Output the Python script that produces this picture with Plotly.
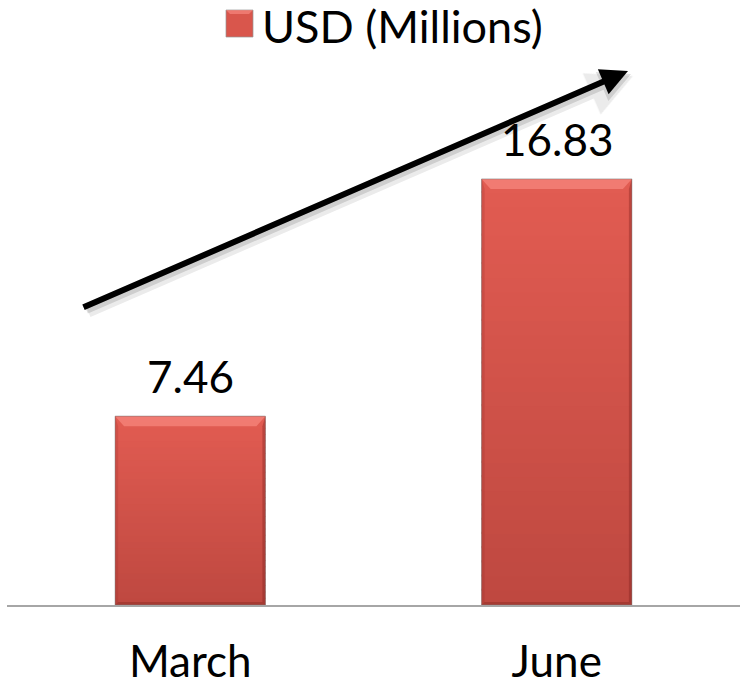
import plotly.graph_objects as go

# Data
months = ["March", "June"]
usd_millions = [7.46, 16.83]
series_name = "USD (Millions)"

# Layout constants
W, H = 740, 691
M_L, M_R, M_T, M_B = 7, 0, 48, 86
Y_MAX = 22.0
BAR_WIDTH = 0.41
FONT = "Lato"
TEXT_SIZE = 44

plot_w = W - M_L - M_R
plot_h = H - M_T - M_B
px_per_cat = plot_w / 2.0
px_per_unit = plot_h / Y_MAX


def paper_x(px):
    return (px - M_L) / plot_w


def paper_y(py):
    return (H - M_B - py) / plot_h


def mix(c0, c1, t):
    return "rgb(%d,%d,%d)" % tuple(round(a + (b - a) * t) for a, b in zip(c0, c1))


BOTTOM_RGB = (190, 72, 64)
TOP_RGB = (226, 92, 82)

fig = go.Figure()
fig.add_trace(go.Bar(
    x=months, y=usd_millions, width=BAR_WIDTH,
    marker=dict(color="#d35249", line=dict(width=0)),
    name=series_name, showlegend=False, hoverinfo="x+y",
))

shapes = []
half = BAR_WIDTH / 2
dx_side = 3 / px_per_cat
dy_top = 10 / px_per_unit
dy_bot = 3 / px_per_unit
N_BANDS = 30
for i, v in enumerate(usd_millions):
    x0, x1 = i - half, i + half
    # vertical shading of the bar body
    for k in range(N_BANDS):
        y0 = v * k / N_BANDS
        y1 = min(v, v * (k + 1.15) / N_BANDS)
        col = mix(BOTTOM_RGB, TOP_RGB, (k + 0.5) / N_BANDS)
        shapes.append(dict(type="rect", xref="x", yref="y", x0=x0, x1=x1, y0=y0, y1=y1,
                           fillcolor=col, line=dict(width=0), layer="above"))
    # bevel: lighter top facet
    shapes.append(dict(
        type="path", xref="x", yref="y", layer="above", line=dict(width=0),
        fillcolor="rgba(255,150,140,0.55)",
        path=f"M{x0},{v} L{x1},{v} L{x1 - dx_side * 3},{v - dy_top} L{x0 + dx_side * 3},{v - dy_top} Z"))
    # bevel: darker right and left facets
    shapes.append(dict(
        type="path", xref="x", yref="y", layer="above", line=dict(width=0),
        fillcolor="rgba(120,30,25,0.35)",
        path=f"M{x1},{v} L{x1},0 L{x1 - dx_side},{dy_bot} L{x1 - dx_side},{v - dy_top} Z"))
    shapes.append(dict(
        type="path", xref="x", yref="y", layer="above", line=dict(width=0),
        fillcolor="rgba(150,40,35,0.2)",
        path=f"M{x0},{v} L{x0},0 L{x0 + dx_side},{dy_bot} L{x0 + dx_side},{v - dy_top} Z"))
    # bevel: darker bottom facet
    shapes.append(dict(
        type="path", xref="x", yref="y", layer="above", line=dict(width=0),
        fillcolor="rgba(110,25,20,0.3)",
        path=f"M{x0},0 L{x1},0 L{x1 - dx_side},{dy_bot} L{x0 + dx_side},{dy_bot} Z"))
    # thin grey outline shadow
    shapes.append(dict(type="rect", xref="x", yref="y", x0=x0, x1=x1, y0=0, y1=v,
                       fillcolor="rgba(0,0,0,0)", line=dict(width=1, color="rgba(120,120,120,0.5)"),
                       layer="above"))

# Legend swatch
lx0, lx1, ly0, ly1 = 226, 253, 10, 37
shapes.append(dict(type="rect", xref="paper", yref="paper",
                   x0=paper_x(lx0), x1=paper_x(lx1), y0=paper_y(ly1), y1=paper_y(ly0),
                   fillcolor="#d9564c", line=dict(width=1, color="rgba(150,150,150,0.7)")))
shapes.append(dict(type="path", xref="paper", yref="paper", line=dict(width=0),
                   fillcolor="rgba(255,150,140,0.55)",
                   path=f"M{paper_x(lx0)},{paper_y(ly0)} L{paper_x(lx1)},{paper_y(ly0)} "
                        f"L{paper_x(lx1 - 4)},{paper_y(ly0 + 4)} L{paper_x(lx0 + 4)},{paper_y(ly0 + 4)} Z"))

annotations = []
# Value labels above bars
for m, v in zip(months, usd_millions):
    annotations.append(dict(x=m, y=v, xref="x", yref="y", text=f"{v:.2f}",
                            showarrow=False, yanchor="bottom", yshift=12,
                            font=dict(family=FONT, size=TEXT_SIZE, color="black")))

# Legend text
annotations.append(dict(x=paper_x(260), y=paper_y(26), xref="paper", yref="paper",
                        text=series_name, showarrow=False, xanchor="left", yanchor="middle",
                        font=dict(family=FONT, size=TEXT_SIZE + 1, color="black")))

# Trend arrow with soft shadow
ax0, ay0, ax1, ay1 = 82, 308, 628, 71
for off, col, wid in [(5, "rgba(0,0,0,0.08)", 10), (3, "rgba(0,0,0,0.12)", 7), (0, "black", 6)]:
    annotations.append(dict(
        x=paper_x(ax1 + off), y=paper_y(ay1 + off), xref="paper", yref="paper",
        ax=(ax0 - ax1), ay=(ay0 - ay1), axref="pixel", ayref="pixel",
        showarrow=True, arrowhead=2, arrowsize=0.9, arrowwidth=wid, arrowcolor=col, text=""))

fig.update_layout(
    width=W, height=H,
    margin=dict(l=M_L, r=M_R, t=M_T, b=M_B),
    paper_bgcolor="white", plot_bgcolor="white",
    showlegend=False,
    font=dict(family=FONT, size=TEXT_SIZE, color="black"),
    xaxis=dict(range=[-0.5, 1.5], showline=True, linecolor="#a6a6a6", linewidth=2,
               ticks="", showgrid=False, zeroline=False, ticklabelstandoff=17,
               automargin=False,
               tickfont=dict(family=FONT, size=TEXT_SIZE, color="black")),
    yaxis=dict(range=[0, Y_MAX], visible=False, showgrid=False, zeroline=False,
               automargin=False),
    shapes=shapes, annotations=annotations,
)

fig.write_html("out.html")
